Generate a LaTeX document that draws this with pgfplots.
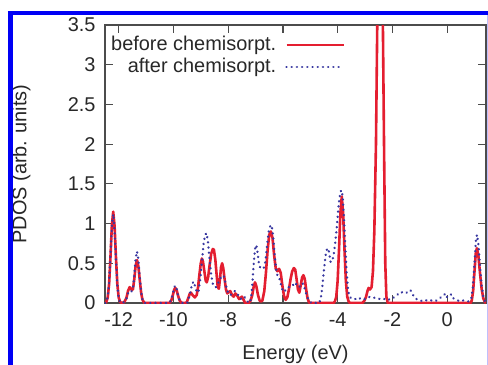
\documentclass[border=0pt]{standalone}
\usepackage{pgfplots}
\pgfplotsset{compat=1.18}
\usepackage{fontspec}
\setmainfont{Liberation Sans}
\definecolor{redline}{RGB}{228,30,48}
\definecolor{blueline}{RGB}{55,55,160}
\definecolor{txt}{RGB}{40,40,40}
\definecolor{frameblue}{RGB}{0,0,245}
\pgfplotstableread{
x y
-12.5 0
-12.45 0.015
-12.4 0.07
-12.35 0.24
-12.3 0.58
-12.25 0.97
-12.2 1.15
-12.15 0.97
-12.1 0.58
-12.05 0.24
-12.0 0.07
-11.95 0.015
-11.9 0
-11.8 0.01
-11.72 0.06
-11.66 0.15
-11.6 0.2
-11.54 0.17
-11.48 0.17
-11.43 0.3
-11.38 0.47
-11.33 0.54
-11.28 0.46
-11.23 0.29
-11.18 0.13
-11.13 0.04
-11.06 0
-10.15 0
-10.08 0.03
-10.02 0.1
-9.97 0.17
-9.93 0.19
-9.88 0.16
-9.83 0.09
-9.77 0.03
-9.7 0
-9.55 0
-9.5 0.02
-9.45 0.07
-9.4 0.12
-9.36 0.13
-9.3 0.1
-9.22 0.07
-9.15 0.1
-9.1 0.2
-9.05 0.36
-9.0 0.5
-8.96 0.56
-8.92 0.52
-8.87 0.4
-8.82 0.28
-8.78 0.26
-8.73 0.33
-8.68 0.47
-8.62 0.62
-8.56 0.68
-8.52 0.67
-8.47 0.55
-8.42 0.35
-8.38 0.2
-8.34 0.18
-8.3 0.3
-8.26 0.45
-8.22 0.5
-8.18 0.44
-8.13 0.3
-8.08 0.17
-8.03 0.12
-7.98 0.14
-7.92 0.15
-7.86 0.1
-7.8 0.08
-7.74 0.12
-7.68 0.1
-7.6 0.05
-7.5 0.08
-7.45 0.05
-7.38 0
-7.25 0
-7.18 0.03
-7.12 0.1
-7.07 0.2
-7.02 0.26
-6.97 0.21
-6.91 0.1
-6.85 0.03
-6.8 0.02
-6.75 0.03
-6.68 0.15
-6.62 0.38
-6.56 0.66
-6.5 0.86
-6.44 0.9
-6.38 0.82
-6.32 0.6
-6.26 0.43
-6.2 0.4
-6.14 0.43
-6.08 0.38
-6.02 0.22
-5.96 0.09
-5.9 0.04
-5.84 0.07
-5.78 0.17
-5.72 0.3
-5.66 0.4
-5.6 0.44
-5.55 0.42
-5.5 0.3
-5.45 0.17
-5.4 0.13
-5.35 0.22
-5.3 0.32
-5.25 0.35
-5.2 0.3
-5.15 0.17
-5.1 0.06
-5.05 0.01
-5.0 0
-4.15 0
-4.1 0.02
-4.05 0.08
-4.0 0.28
-3.95 0.67
-3.9 1.13
-3.85 1.34
-3.8 1.13
-3.75 0.67
-3.7 0.28
-3.65 0.08
-3.6 0.02
-3.55 0
-3.1 0
-3.02 0.03
-2.96 0.08
-2.91 0.15
-2.87 0.19
-2.82 0.17
-2.76 0.2
-2.71 0.4
-2.66 0.9
-2.6 2.0
-2.55 3.6
-2.5 5.5
-2.45 6.5
-2.4 5.5
-2.35 3.6
-2.3 1.8
-2.26 0.5
-2.22 0.08
-2.17 0
0.85 0
0.9 0.03
0.95 0.15
1.0 0.4
1.05 0.64
1.09 0.69
1.14 0.6
1.2 0.38
1.26 0.18
1.32 0.06
1.38 0.01
1.42 0
}\before
\pgfplotstableread{
x y
-12.5 0
-12.45 0.015
-12.4 0.08
-12.35 0.25
-12.3 0.6
-12.25 0.96
-12.2 1.12
-12.15 0.93
-12.1 0.55
-12.05 0.22
-12.0 0.06
-11.95 0.01
-11.9 0
-11.8 0.01
-11.72 0.05
-11.66 0.12
-11.6 0.15
-11.54 0.14
-11.48 0.18
-11.43 0.35
-11.38 0.56
-11.33 0.65
-11.28 0.55
-11.23 0.33
-11.18 0.14
-11.13 0.04
-11.06 0
-10.15 0
-10.08 0.04
-10.02 0.12
-9.97 0.2
-9.93 0.22
-9.88 0.18
-9.83 0.1
-9.77 0.03
-9.7 0
-9.5 0
-9.45 0.04
-9.38 0.14
-9.32 0.24
-9.26 0.27
-9.2 0.2
-9.14 0.13
-9.08 0.15
-9.02 0.3
-8.96 0.52
-8.9 0.74
-8.84 0.86
-8.79 0.88
-8.74 0.78
-8.68 0.55
-8.62 0.35
-8.56 0.24
-8.5 0.2
-8.45 0.2
-8.38 0.24
-8.3 0.3
-8.22 0.35
-8.15 0.33
-8.08 0.22
-8.0 0.12
-7.92 0.1
-7.85 0.12
-7.76 0.15
-7.68 0.13
-7.58 0.06
-7.5 0.05
-7.42 0.08
-7.36 0.06
-7.3 0.02
-7.22 0
-7.17 0.05
-7.12 0.22
-7.07 0.48
-7.02 0.68
-6.97 0.73
-6.92 0.62
-6.87 0.48
-6.82 0.44
-6.76 0.43
-6.7 0.44
-6.64 0.52
-6.58 0.72
-6.52 0.9
-6.46 0.97
-6.41 0.98
-6.36 0.85
-6.3 0.6
-6.24 0.4
-6.18 0.32
-6.12 0.3
-6.06 0.22
-6.0 0.15
-5.94 0.14
-5.88 0.18
-5.8 0.2
-5.72 0.2
-5.64 0.22
-5.56 0.26
-5.48 0.22
-5.4 0.2
-5.32 0.25
-5.25 0.24
-5.18 0.15
-5.1 0.07
-5.03 0.02
-4.96 0
-4.68 0
-4.62 0.05
-4.56 0.2
-4.5 0.42
-4.44 0.6
-4.38 0.69
-4.32 0.65
-4.26 0.52
-4.2 0.52
-4.14 0.62
-4.08 0.78
-4.02 1.0
-3.96 1.25
-3.9 1.4
-3.86 1.42
-3.82 1.35
-3.77 1.08
-3.72 0.7
-3.67 0.38
-3.62 0.17
-3.57 0.08
-3.5 0.06
-3.4 0.06
-3.3 0.04
-3.2 0.06
-3.1 0.04
-3.0 0.05
-2.9 0.07
-2.8 0.08
-2.7 0.07
-2.6 0.06
-2.5 0.05
-2.4 0.06
-2.3 0.05
-2.2 0.06
-2.1 0.04
-2.0 0.06
-1.9 0.08
-1.8 0.11
-1.7 0.14
-1.62 0.13
-1.55 0.12
-1.48 0.13
-1.4 0.16
-1.34 0.16
-1.27 0.12
-1.2 0.07
-1.12 0.05
-1.0 0.04
-0.9 0.02
-0.8 0.03
-0.7 0.04
-0.6 0.03
-0.5 0.04
-0.4 0.03
-0.3 0.05
-0.2 0.08
-0.12 0.1
-0.05 0.12
0.0 0.07
0.08 0.09
0.15 0.11
0.22 0.06
0.3 0.05
0.4 0.03
0.5 0.04
0.6 0.03
0.7 0.02
0.8 0.02
0.88 0.05
0.94 0.2
1.0 0.5
1.05 0.78
1.09 0.86
1.14 0.75
1.2 0.47
1.26 0.22
1.32 0.08
1.38 0.02
1.42 0
}\after
\begin{document}
\begin{tikzpicture}
\useasboundingbox (-105bp,-62bp) rectangle (383bp,303bp);
\fill[white] (-105bp,-62bp) rectangle (383bp,303bp);
\begin{axis}[
  scale only axis, width=381bp, height=278bp,
  xmin=-12.5, xmax=1.42, ymin=0, ymax=3.5,
  xtick={-12,-10,-8,-6,-4,-2,0},
  ytick={0,0.5,1,1.5,2,2.5,3,3.5},
  minor tick num=0,
  tick align=inside, major tick length=8bp,
  axis line style={draw=black!70, line width=1.3bp},
  every tick/.style={draw=black!70, line width=1.2bp},
  tick label style={font=\fontsize{20}{24}\selectfont, text=txt},
  /pgf/number format/assume math mode=true,
  xticklabel style={yshift=-6bp},
  yticklabel style={xshift=-6bp},
  xlabel={Energy (eV)}, ylabel={PDOS (arb. units)},
  label style={font=\fontsize{20}{24}\selectfont, text=txt},
  xlabel style={at={(axis description cs:0.5,-0.183)}, anchor=center},
  ylabel style={at={(axis description cs:-0.22,0.5)}, anchor=center},
  legend cell align=right,
  legend plot pos=right,
  legend image code/.code={\draw[#1] (0bp,0bp) -- (57bp,0bp);},
  legend style={at={(axis description cs:0,1)}, anchor=north west,
    xshift=2bp, yshift=-8bp, draw=none, fill=none,
    font=\fontsize{20}{24}\selectfont, text=txt,
    row sep=2bp, column sep=8bp,
    nodes={inner sep=1bp, text height=14bp, text depth=4bp}},
]
\addplot[redline, line width=2.6bp, line join=round] table[x=x,y=y] {\before};
\addlegendentry{before chemisorpt.}
\addplot[blueline, line width=2.6bp, line cap=round, dash pattern=on 0.01bp off 5.2bp] table[x=x,y=y] {\after};
\addlegendentry{after chemisorpt.}
\end{axis}
\draw[frameblue, line width=4.5bp] (-97bp,290bp) -- (383bp,290bp);
\draw[frameblue, line width=4.5bp] (-94.5bp,-62bp) -- (-94.5bp,292.25bp);
\draw[frameblue!25, line width=1.5bp] (382.25bp,-62bp) -- (382.25bp,288bp);
\end{tikzpicture}
\end{document}
